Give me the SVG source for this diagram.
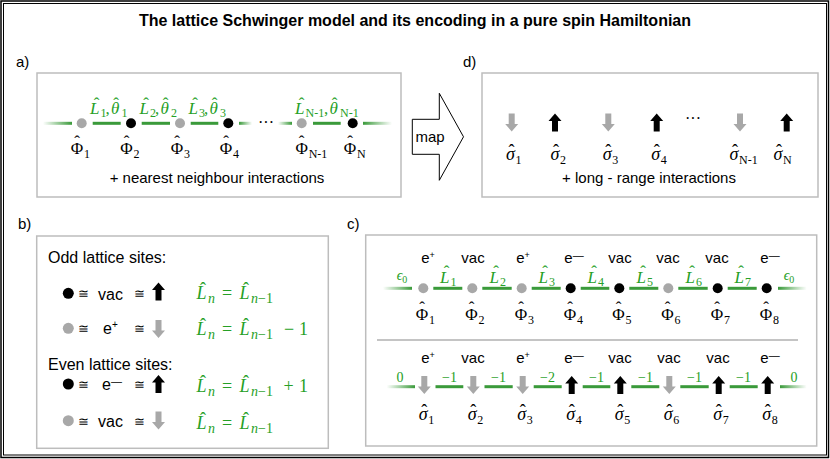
<svg xmlns="http://www.w3.org/2000/svg" width="830" height="459" viewBox="0 0 830 459">
<defs>
<linearGradient id="fin" x1="0" y1="0" x2="1" y2="0"><stop offset="0" stop-color="#3a9a3a" stop-opacity="0"/><stop offset="1" stop-color="#3a9a3a"/></linearGradient>
<linearGradient id="fout" x1="0" y1="0" x2="1" y2="0"><stop offset="0" stop-color="#3a9a3a"/><stop offset="1" stop-color="#3a9a3a" stop-opacity="0"/></linearGradient>
<path id="up" d="M0,-9L6.5,-1.5H3V9H-3V-1.5H-6.5Z"/>
<style>
.s{font-family:"Liberation Sans",Arial,sans-serif;fill:#000}
.m{font-family:"Liberation Serif","DejaVu Serif",serif;fill:#000}
.i{font-style:italic}
.n{font-style:normal}
.g{fill:#26a026}
.h{text-anchor:middle;font-style:normal}
.box{fill:#fff;stroke:#bdbdbd;stroke-width:1.5}
.seg{fill:#3a9a3a}
.fi{fill:url(#fin)}
.fo{fill:url(#fout)}
.gr{fill:#a8a8a8}
.bk{fill:#000}
.cong{font-family:"DejaVu Serif","Liberation Serif",serif;font-size:13px;fill:#000}
</style>
</defs>
<rect width="830" height="459" fill="#fff"/>
<rect x="1" y="1" width="827.5" height="456.5" fill="none" stroke="#000" stroke-width="1.5"/>
<rect x="3.5" y="3.5" width="823" height="451.5" fill="none" stroke="#000" stroke-width="1"/>
<text x="415" y="26" class="s" font-size="16" font-weight="bold" text-anchor="middle">The lattice Schwinger model and its encoding in a pure spin Hamiltonian</text>

<!-- panel labels -->
<text x="16" y="67" class="s" font-size="15">a)</text>
<text x="463" y="67" class="s" font-size="15">d)</text>
<text x="18" y="229" class="s" font-size="15">b)</text>
<text x="347" y="229" class="s" font-size="15">c)</text>

<!-- boxes -->
<rect id="boxA" x="37" y="73" width="364" height="124" class="box"/>
<rect id="boxD" x="482" y="73" width="336" height="124" class="box"/>
<rect id="boxB" x="36.7" y="236" width="291.6" height="212.3" class="box"/>
<rect id="boxC" x="365.7" y="235" width="451" height="211" class="box"/>

<!-- map arrow -->
<g id="map">
<polygon points="412.3,119.3 439.3,119.3 439.3,93.3 463.5,136.8 439.3,180.3 439.3,154.3 412.3,154.3" fill="#fff" stroke="#000" stroke-width="1"/>
<text x="430" y="142" class="s" font-size="15" text-anchor="middle">map</text>
</g>

<!-- panel a connectors -->
<g id="connA">
<rect x="43" y="121.8" width="29" height="3" class="fi"/>
<rect x="92.7" y="121.8" width="28" height="3" class="seg"/>
<rect x="141.7" y="121.8" width="28.3" height="3" class="seg"/>
<rect x="190.7" y="121.8" width="27.6" height="3" class="seg"/>
<rect x="239" y="121.8" width="13" height="3" class="fo"/>
<rect x="278" y="121.8" width="14" height="3" class="fi"/>
<rect x="313" y="121.8" width="27.7" height="3" class="seg"/>
<rect x="363" y="121.8" width="29" height="3" class="fo"/>
</g>
<g id="panelA">
<g id="aL1" class="m g" font-size="17">
<text y="114" class="m g i"><tspan x="90">L</tspan><tspan x="100.5" dy="3" font-size="12" class="n">1</tspan><tspan x="105.5" dy="-3" class="n">,</tspan><tspan x="111">θ</tspan><tspan x="121.5" dy="3" font-size="12" class="n">1</tspan></text>
<text x="96.5" y="108.5" class="m g h">ˆ</text><text x="116" y="108.5" class="m g h">ˆ</text>
</g>
<g id="aL2" class="m g" font-size="17">
<text y="114" class="m g i"><tspan x="139.5">L</tspan><tspan x="150" dy="3" font-size="12" class="n">2</tspan><tspan x="155" dy="-3" class="n">,</tspan><tspan x="160.5">θ</tspan><tspan x="171" dy="3" font-size="12" class="n">2</tspan></text>
<text x="146" y="108.5" class="m g h">ˆ</text><text x="165.5" y="108.5" class="m g h">ˆ</text>
</g>
<g id="aL3" class="m g" font-size="17">
<text y="114" class="m g i"><tspan x="188.5">L</tspan><tspan x="199" dy="3" font-size="12" class="n">3</tspan><tspan x="204" dy="-3" class="n">,</tspan><tspan x="209.5">θ</tspan><tspan x="220" dy="3" font-size="12" class="n">3</tspan></text>
<text x="195" y="108.5" class="m g h">ˆ</text><text x="214.5" y="108.5" class="m g h">ˆ</text>
</g>
<g id="aL4" class="m g" font-size="17">
<text y="114" class="m g i"><tspan x="295">L</tspan><tspan x="305.5" dy="3" font-size="12" class="n">N-1</tspan><tspan x="324" dy="-3" class="n">,</tspan><tspan x="329.5">θ</tspan><tspan x="340" dy="3" font-size="12" class="n">N-1</tspan></text>
<text x="301.5" y="108.5" class="m g h">ˆ</text><text x="334.5" y="108.5" class="m g h">ˆ</text>
</g>
<text x="266" y="128" class="m" font-size="16" text-anchor="middle">···</text>
<g id="a1" font-size="17"><circle cx="81.7" cy="123.3" r="5" class="gr"/><text x="77" y="153.5" class="m" text-anchor="middle">Φ</text><text x="77" y="147" class="m h">ˆ</text><text x="84" y="158" class="m" font-size="12">1</text></g>
<g id="a2" font-size="17"><circle cx="131" cy="123.3" r="5" class="bk"/><text x="126.5" y="153.5" class="m" text-anchor="middle">Φ</text><text x="126.5" y="147" class="m h">ˆ</text><text x="133.5" y="158" class="m" font-size="12">2</text></g>
<g id="a3" font-size="17"><circle cx="180" cy="123.3" r="5" class="gr"/><text x="177" y="153.5" class="m" text-anchor="middle">Φ</text><text x="177" y="147" class="m h">ˆ</text><text x="184" y="158" class="m" font-size="12">3</text></g>
<g id="a4" font-size="17"><circle cx="228.3" cy="123.3" r="5" class="bk"/><text x="226" y="153.5" class="m" text-anchor="middle">Φ</text><text x="226" y="147" class="m h">ˆ</text><text x="233" y="158" class="m" font-size="12">4</text></g>
<g id="aN1" font-size="17"><circle cx="301.7" cy="123.3" r="5" class="gr"/><text x="301.7" y="153.5" class="m" text-anchor="middle">Φ</text><text x="301.7" y="147" class="m h">ˆ</text><text x="308.7" y="158" class="m" font-size="12">N-1</text></g>
<g id="aN" font-size="17"><circle cx="352.7" cy="123.3" r="5" class="bk"/><text x="350" y="153.5" class="m" text-anchor="middle">Φ</text><text x="350" y="147" class="m h">ˆ</text><text x="357" y="158" class="m" font-size="12">N</text></g>
<text x="217" y="183" class="s" font-size="15" text-anchor="middle">+ nearest neighbour interactions</text>
</g>

<!-- panel d -->
<g id="panelD" font-size="18">
<g id="d1"><use href="#up" transform="translate(511.7,122.5) rotate(180)" class="gr"/><text x="510.5" y="160" class="m i" text-anchor="middle">σ</text><text x="511.5" y="157" class="m h">ˆ</text><text x="515.5" y="164" class="m" font-size="12">1</text></g>
<g id="d2"><use href="#up" transform="translate(555,122.5)" class="bk"/><text x="555" y="160" class="m i" text-anchor="middle">σ</text><text x="556" y="157" class="m h">ˆ</text><text x="560" y="164" class="m" font-size="12">2</text></g>
<g id="d3"><use href="#up" transform="translate(608.3,122.5) rotate(180)" class="gr"/><text x="607.3" y="160" class="m i" text-anchor="middle">σ</text><text x="608.3" y="157" class="m h">ˆ</text><text x="612.3" y="164" class="m" font-size="12">3</text></g>
<g id="d4"><use href="#up" transform="translate(656.7,122.5)" class="bk"/><text x="655.7" y="160" class="m i" text-anchor="middle">σ</text><text x="656.7" y="157" class="m h">ˆ</text><text x="660.7" y="164" class="m" font-size="12">4</text></g>
<text x="693" y="124" class="m" font-size="16" text-anchor="middle">···</text>
<g id="dN1"><use href="#up" transform="translate(740,122.5) rotate(180)" class="gr"/><text x="734" y="160" class="m i" text-anchor="middle">σ</text><text x="735" y="157" class="m h">ˆ</text><text x="739" y="164" class="m" font-size="12">N-1</text></g>
<g id="dN"><use href="#up" transform="translate(786.7,122.5)" class="bk"/><text x="778" y="160" class="m i" text-anchor="middle">σ</text><text x="779" y="157" class="m h">ˆ</text><text x="783" y="164" class="m" font-size="12">N</text></g>
<text x="649" y="183" class="s" font-size="15" text-anchor="middle">+ long - range interactions</text>
</g>

<!-- panel b -->
<g id="panelB">
<text x="48" y="263" class="s" font-size="16">Odd lattice sites:</text>
<g id="b1">
<circle cx="68.3" cy="293.3" r="5.5" class="bk"/>
<text x="83.5" y="298" class="cong" text-anchor="middle">≅</text>
<text x="98" y="299.5" class="s" font-size="16">vac</text>
<text x="139.5" y="298" class="cong" text-anchor="middle">≅</text>
<use href="#up" transform="translate(158.5,291.5)" class="bk"/>
<text y="299" class="m g" font-size="18"><tspan x="196.5" class="i">L</tspan><tspan x="208" dy="4" font-size="14" class="i">n</tspan><tspan x="222" dy="-4">=</tspan><tspan x="239.5" class="i">L</tspan><tspan x="251" dy="4" font-size="14"><tspan class="i">n</tspan>−1</tspan></text>
<text x="203" y="294.5" class="m g h" font-size="18">ˆ</text><text x="246" y="294.5" class="m g h" font-size="18">ˆ</text>
</g>
<g id="b2">
<circle cx="68.3" cy="328.3" r="5.5" class="gr"/>
<text x="83.5" y="333" class="cong" text-anchor="middle">≅</text>
<text x="103" y="333.5" class="s" font-size="16">e<tspan font-size="10" dy="-6">+</tspan></text>
<text x="139.5" y="333" class="cong" text-anchor="middle">≅</text>
<use href="#up" transform="translate(158.5,329) rotate(180)" class="gr"/>
<text y="335" class="m g" font-size="18"><tspan x="196.5" class="i">L</tspan><tspan x="208" dy="4" font-size="14" class="i">n</tspan><tspan x="222" dy="-4">=</tspan><tspan x="239.5" class="i">L</tspan><tspan x="251" dy="4" font-size="14"><tspan class="i">n</tspan>−1</tspan><tspan x="284" dy="-4">−</tspan><tspan x="299">1</tspan></text>
<text x="203" y="330.5" class="m g h" font-size="18">ˆ</text><text x="246" y="330.5" class="m g h" font-size="18">ˆ</text>
</g>
<text x="48" y="370" class="s" font-size="16">Even lattice sites:</text>
<g id="b3">
<circle cx="68.3" cy="384" r="5.5" class="bk"/>
<text x="83.5" y="389" class="cong" text-anchor="middle">≅</text>
<text x="102" y="390" class="s" font-size="16">e<tspan font-size="11" dy="-5">—</tspan></text>
<text x="139.5" y="389" class="cong" text-anchor="middle">≅</text>
<use href="#up" transform="translate(158.5,384)" class="bk"/>
<text y="392" class="m g" font-size="18"><tspan x="196.5" class="i">L</tspan><tspan x="208" dy="4" font-size="14" class="i">n</tspan><tspan x="222" dy="-4">=</tspan><tspan x="239.5" class="i">L</tspan><tspan x="251" dy="4" font-size="14"><tspan class="i">n</tspan>−1</tspan><tspan x="283.5" dy="-4">+</tspan><tspan x="299">1</tspan></text>
<text x="203" y="387.5" class="m g h" font-size="18">ˆ</text><text x="246" y="387.5" class="m g h" font-size="18">ˆ</text>
</g>
<g id="b4">
<circle cx="68.3" cy="420.7" r="5.5" class="gr"/>
<text x="83.5" y="425.5" class="cong" text-anchor="middle">≅</text>
<text x="98" y="426.5" class="s" font-size="16">vac</text>
<text x="139.5" y="425.5" class="cong" text-anchor="middle">≅</text>
<use href="#up" transform="translate(158.5,420.5) rotate(180)" class="gr"/>
<text y="429" class="m g" font-size="18"><tspan x="196.5" class="i">L</tspan><tspan x="208" dy="4" font-size="14" class="i">n</tspan><tspan x="222" dy="-4">=</tspan><tspan x="239.5" class="i">L</tspan><tspan x="251" dy="4" font-size="14"><tspan class="i">n</tspan>−1</tspan></text>
<text x="203" y="424.5" class="m g h" font-size="18">ˆ</text><text x="246" y="424.5" class="m g h" font-size="18">ˆ</text>
</g>
</g>

<!-- panel c connectors -->
<g id="connC">
<rect x="383" y="286.8" width="29" height="3" class="fi"/>
<rect x="433.3" y="286.8" width="29" height="3" class="seg"/>
<rect x="482.3" y="286.8" width="29.4" height="3" class="seg"/>
<rect x="531.7" y="286.8" width="29" height="3" class="seg"/>
<rect x="580.7" y="286.8" width="28.6" height="3" class="seg"/>
<rect x="629.3" y="286.8" width="29" height="3" class="seg"/>
<rect x="678.3" y="286.8" width="29.4" height="3" class="seg"/>
<rect x="727.7" y="286.8" width="29" height="3" class="seg"/>
<rect x="778" y="286.8" width="28.7" height="3" class="fo"/>
<line x1="377" y1="340" x2="798" y2="340" stroke="#b0b0b0" stroke-width="1.5"/>
<rect x="386.7" y="385.2" width="28.3" height="3" class="fi"/>
<rect x="435.5" y="385.2" width="27.8" height="3" class="seg"/>
<rect x="484.5" y="385.2" width="28.2" height="3" class="seg"/>
<rect x="533.7" y="385.2" width="28" height="3" class="seg"/>
<rect x="582.7" y="385.2" width="27.6" height="3" class="seg"/>
<rect x="631.3" y="385.2" width="28" height="3" class="seg"/>
<rect x="680.3" y="385.2" width="28.4" height="3" class="seg"/>
<rect x="729.7" y="385.2" width="28" height="3" class="seg"/>
<rect x="780" y="385.2" width="26.7" height="3" class="fo"/>
</g>
<g id="cLabels" class="m g" font-size="17">
<text x="402" y="280" class="m g i" font-size="14" text-anchor="middle">ϵ<tspan class="n" font-size="10" dy="3">0</tspan></text>
<text x="789" y="280" class="m g i" font-size="14" text-anchor="middle">ϵ<tspan class="n" font-size="10" dy="3">0</tspan></text>
<text y="282.5" class="m g i"><tspan x="440">L</tspan><tspan x="450.5" dy="3" font-size="12" class="n">1</tspan></text><text x="446.5" y="277" class="m g h">ˆ</text>
<text y="282.5" class="m g i"><tspan x="489.5">L</tspan><tspan x="500" dy="3" font-size="12" class="n">2</tspan></text><text x="496" y="277" class="m g h">ˆ</text>
<text y="282.5" class="m g i"><tspan x="538.5">L</tspan><tspan x="549" dy="3" font-size="12" class="n">3</tspan></text><text x="545" y="277" class="m g h">ˆ</text>
<text y="282.5" class="m g i"><tspan x="587.5">L</tspan><tspan x="598" dy="3" font-size="12" class="n">4</tspan></text><text x="594" y="277" class="m g h">ˆ</text>
<text y="282.5" class="m g i"><tspan x="636.5">L</tspan><tspan x="647" dy="3" font-size="12" class="n">5</tspan></text><text x="643" y="277" class="m g h">ˆ</text>
<text y="282.5" class="m g i"><tspan x="685.5">L</tspan><tspan x="696" dy="3" font-size="12" class="n">6</tspan></text><text x="692" y="277" class="m g h">ˆ</text>
<text y="282.5" class="m g i"><tspan x="734.5">L</tspan><tspan x="745" dy="3" font-size="12" class="n">7</tspan></text><text x="741" y="277" class="m g h">ˆ</text>
<text x="400" y="381.7" class="m g" font-size="14" text-anchor="middle">0</text>
<text x="794" y="381.7" class="m g" font-size="14" text-anchor="middle">0</text>
<text x="449.5" y="381.7" class="m g" font-size="14" text-anchor="middle">−1</text>
<text x="498.5" y="381.7" class="m g" font-size="14" text-anchor="middle">−1</text>
<text x="547.5" y="381.7" class="m g" font-size="14" text-anchor="middle">−2</text>
<text x="596.5" y="381.7" class="m g" font-size="14" text-anchor="middle">−1</text>
<text x="645.5" y="381.7" class="m g" font-size="14" text-anchor="middle">−1</text>
<text x="694.5" y="381.7" class="m g" font-size="14" text-anchor="middle">−1</text>
<text x="743.5" y="381.7" class="m g" font-size="14" text-anchor="middle">−1</text>
</g>
<g id="c1" font-size="17"><text x="428" y="263.3" class="s" font-size="15" text-anchor="middle">e<tspan font-size="9" dy="-5">+</tspan></text><circle cx="423.3" cy="288.3" r="5" class="gr"/><text x="422" y="320" class="m" text-anchor="middle">Φ</text><text x="422" y="313" class="m h">ˆ</text><text x="429" y="324" class="m" font-size="12">1</text>
<text x="428" y="363.3" class="s" font-size="15" text-anchor="middle">e<tspan font-size="9" dy="-5">+</tspan></text><use href="#up" transform="translate(424.3,385) rotate(180)" class="gr"/><text x="423.3" y="420" class="m i" font-size="18" text-anchor="middle">σ</text><text x="424.3" y="417" class="m h" font-size="18">ˆ</text><text x="428.3" y="424" class="m" font-size="12">1</text></g>
<g id="c2" font-size="17"><text x="473" y="263.3" class="s" font-size="15" text-anchor="middle">vac</text><circle cx="472.3" cy="288.3" r="5" class="gr"/><text x="471.5" y="320" class="m" text-anchor="middle">Φ</text><text x="471.5" y="313" class="m h">ˆ</text><text x="478.5" y="324" class="m" font-size="12">2</text>
<text x="473" y="363.3" class="s" font-size="15" text-anchor="middle">vac</text><use href="#up" transform="translate(473.3,385) rotate(180)" class="gr"/><text x="472.3" y="420" class="m i" font-size="18" text-anchor="middle">σ</text><text x="473.3" y="417" class="m h" font-size="18">ˆ</text><text x="477.3" y="424" class="m" font-size="12">2</text></g>
<g id="c3" font-size="17"><text x="523" y="263.3" class="s" font-size="15" text-anchor="middle">e<tspan font-size="9" dy="-5">+</tspan></text><circle cx="521.7" cy="288.3" r="5" class="gr"/><text x="521" y="320" class="m" text-anchor="middle">Φ</text><text x="521" y="313" class="m h">ˆ</text><text x="528" y="324" class="m" font-size="12">3</text>
<text x="523" y="363.3" class="s" font-size="15" text-anchor="middle">e<tspan font-size="9" dy="-5">+</tspan></text><use href="#up" transform="translate(522.7,385) rotate(180)" class="gr"/><text x="521.7" y="420" class="m i" font-size="18" text-anchor="middle">σ</text><text x="522.7" y="417" class="m h" font-size="18">ˆ</text><text x="526.7" y="424" class="m" font-size="12">3</text></g>
<g id="c4" font-size="17"><text x="574" y="263.3" class="s" font-size="15" text-anchor="middle">e<tspan font-size="11" dy="-4">—</tspan></text><circle cx="570.7" cy="288.3" r="5" class="bk"/><text x="570" y="320" class="m" text-anchor="middle">Φ</text><text x="570" y="313" class="m h">ˆ</text><text x="577" y="324" class="m" font-size="12">4</text>
<text x="574" y="363.3" class="s" font-size="15" text-anchor="middle">e<tspan font-size="11" dy="-4">—</tspan></text><use href="#up" transform="translate(571.7,385)" class="bk"/><text x="570.7" y="420" class="m i" font-size="18" text-anchor="middle">σ</text><text x="571.7" y="417" class="m h" font-size="18">ˆ</text><text x="575.7" y="424" class="m" font-size="12">4</text></g>
<g id="c5" font-size="17"><text x="620" y="263.3" class="s" font-size="15" text-anchor="middle">vac</text><circle cx="619.3" cy="288.3" r="5" class="bk"/><text x="618.5" y="320" class="m" text-anchor="middle">Φ</text><text x="618.5" y="313" class="m h">ˆ</text><text x="625.5" y="324" class="m" font-size="12">5</text>
<text x="620" y="363.3" class="s" font-size="15" text-anchor="middle">vac</text><use href="#up" transform="translate(620.3,385)" class="bk"/><text x="619.3" y="420" class="m i" font-size="18" text-anchor="middle">σ</text><text x="620.3" y="417" class="m h" font-size="18">ˆ</text><text x="624.3" y="424" class="m" font-size="12">5</text></g>
<g id="c6" font-size="17"><text x="668" y="263.3" class="s" font-size="15" text-anchor="middle">vac</text><circle cx="668.3" cy="288.3" r="5" class="gr"/><text x="667.5" y="320" class="m" text-anchor="middle">Φ</text><text x="667.5" y="313" class="m h">ˆ</text><text x="674.5" y="324" class="m" font-size="12">6</text>
<text x="669" y="363.3" class="s" font-size="15" text-anchor="middle">vac</text><use href="#up" transform="translate(669.3,385) rotate(180)" class="gr"/><text x="668.3" y="420" class="m i" font-size="18" text-anchor="middle">σ</text><text x="669.3" y="417" class="m h" font-size="18">ˆ</text><text x="673.3" y="424" class="m" font-size="12">6</text></g>
<g id="c7" font-size="17"><text x="717" y="263.3" class="s" font-size="15" text-anchor="middle">vac</text><circle cx="717.7" cy="288.3" r="5" class="bk"/><text x="717" y="320" class="m" text-anchor="middle">Φ</text><text x="717" y="313" class="m h">ˆ</text><text x="724" y="324" class="m" font-size="12">7</text>
<text x="718" y="363.3" class="s" font-size="15" text-anchor="middle">vac</text><use href="#up" transform="translate(718.7,385)" class="bk"/><text x="717.7" y="420" class="m i" font-size="18" text-anchor="middle">σ</text><text x="718.7" y="417" class="m h" font-size="18">ˆ</text><text x="722.7" y="424" class="m" font-size="12">7</text></g>
<g id="c8" font-size="17"><text x="770" y="263.3" class="s" font-size="15" text-anchor="middle">e<tspan font-size="11" dy="-4">—</tspan></text><circle cx="766.7" cy="288.3" r="5" class="bk"/><text x="766" y="320" class="m" text-anchor="middle">Φ</text><text x="766" y="313" class="m h">ˆ</text><text x="773" y="324" class="m" font-size="12">8</text>
<text x="770" y="363.3" class="s" font-size="15" text-anchor="middle">e<tspan font-size="11" dy="-4">—</tspan></text><use href="#up" transform="translate(767.7,385)" class="bk"/><text x="766.7" y="420" class="m i" font-size="18" text-anchor="middle">σ</text><text x="767.7" y="417" class="m h" font-size="18">ˆ</text><text x="771.7" y="424" class="m" font-size="12">8</text></g>
</svg>
